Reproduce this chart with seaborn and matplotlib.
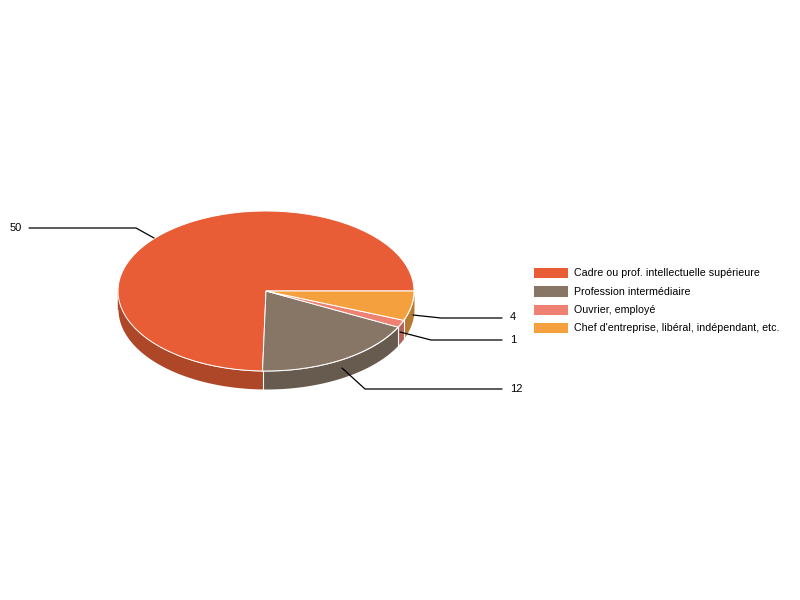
import numpy as np
import matplotlib
matplotlib.use('Agg')
import matplotlib.pyplot as plt
import seaborn as sns

# Chart data
categories = ['Cadre ou prof. intellectuelle supérieure', 'Profession intermédiaire',
              'Ouvrier, employé', "Chef d'entreprise, libéral, indépendant, etc."]
values = [50, 12, 1, 4]
colors = ['#E85C36', '#877566', '#EF8172', '#F5A03E']
side_colors = ['#AE4628', '#675A4E', '#B3615A', '#B87A30']

# Leader lines, in pixels of the 800x600 picture
leader_x = [[154, 136, 29], [342, 365, 502], [400, 431, 502], [413, 441, 502]]
leader_y = [[238, 228, 228], [368, 389, 389], [332, 340, 340], [315, 318, 318]]
label_x = [22, 510, 510, 510]
label_ha = ['right', 'left', 'left', 'left']
label_y = [228, 389, 340, 317]

sns.set_theme(style='white')
plt.rcParams['font.family'] = ['Liberation Sans', 'DejaVu Sans']

# Pie position on the picture
cx, cy, rx, ry, depth = 266, 291, 148, 80, 18


def to_x(px):
    return (np.asarray(px) - cx) / rx


def to_y(py):
    return (cy - np.asarray(py)) / ry


fig = plt.figure(figsize=(8, 6), dpi=100)
ax = fig.add_axes([0, 0, 1, 1])

# Side wall of the pie, only the front half is visible
edges = np.cumsum([0] + values) / sum(values) * 360
for start, end, col in zip(edges[:-1], edges[1:], side_colors):
    start = max(start, 180)
    if end <= start:
        continue
    theta = np.radians(np.linspace(start, end, 80))
    ax.fill_between(np.cos(theta), np.sin(theta), np.sin(theta) - depth / ry,
                    color=col, lw=0, zorder=1)
    ax.plot(np.cos(theta[[0, 0]]), [np.sin(theta[0]), np.sin(theta[0]) - depth / ry],
            color='white', lw=0.8, zorder=2)

# Leftmost rim of the side wall
ax.plot([-1, -1], [0, -depth / ry], color='#AE4628', lw=1, zorder=2)

# Top of the pie
wedges, _ = ax.pie(values, colors=colors, startangle=0, counterclock=True, radius=1,
                   wedgeprops={'edgecolor': 'white', 'linewidth': 0.7, 'zorder': 3})
for w in wedges:
    w.set_zorder(3)

ax.set_aspect('auto')
ax.set_xlim(to_x(0), to_x(800))
ax.set_ylim(to_y(600), to_y(0))
ax.axis('off')

# Leader lines and value labels
for lx, ly, tx, ha, ty, val in zip(leader_x, leader_y, label_x, label_ha, label_y, values):
    ax.plot(to_x(lx), to_y(ly), color='black', lw=0.9, zorder=4, solid_joinstyle='miter')
    ax.text(to_x(tx), to_y(ty), str(val), ha=ha, va='center', fontsize=8, color='black')

leg = ax.legend(wedges, categories, loc='upper left', bbox_to_anchor=(533 / 800, 1 - 267 / 600),
                bbox_transform=fig.transFigure, frameon=False, fontsize=7.7, handlelength=3.27,
                handleheight=1.25, handletextpad=0.56, labelspacing=0.66, borderpad=0,
                borderaxespad=0)
for txt in leg.get_texts():
    txt.set_color('black')

fig.savefig('out.png', dpi=100)
